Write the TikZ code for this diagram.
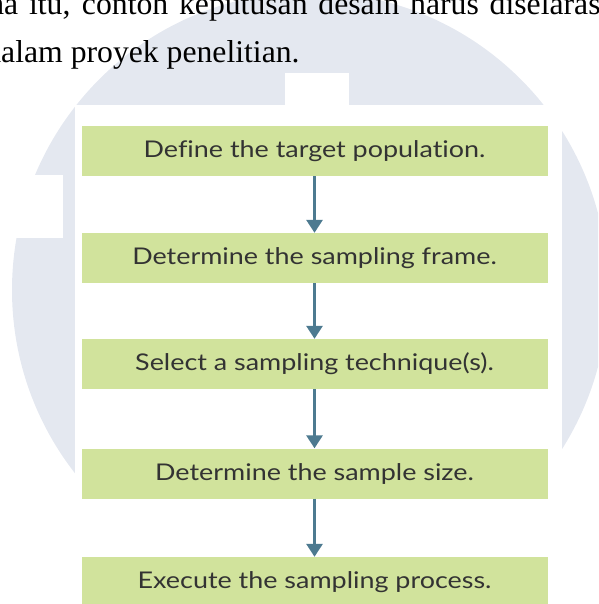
\documentclass[tikz,border=0pt]{standalone}
\usepackage{fontspec}
\setmainfont{Liberation Serif}
\newfontfamily\kastenfont[FakeStretch=1.17,Ligatures=NoCommon]{Lato}
\usetikzlibrary{arrows.meta,positioning}
\definecolor{gruen}{HTML}{D1E39C}
\definecolor{stahl}{HTML}{4D7A90}
\definecolor{schrift}{HTML}{333333}
\definecolor{wasser}{HTML}{E4E8F0}
\tikzset{
  kasten/.style={fill=gruen,minimum width=466pt,minimum height=50pt,inner sep=0pt,text=schrift,font=\kastenfont\fontsize{23}{27}\selectfont},
  pfeil/.style={-{Triangle[length=13pt,width=16pt]},stahl,line width=3pt},
  zeile/.style={anchor=base west,inner sep=0pt,font=\fontsize{31.7}{38}\selectfont},
}

\begin{document}
\begin{tikzpicture}[x=1pt,y=-1pt]
  \useasboundingbox (0,0) rectangle (598,604);
  \clip (0,0) rectangle (598,604);
  % watermark
  \fill[wasser] (310,290) circle (298);
  \fill[white] (75,105) rectangle (562,604);
  \fill[white] (285,73) rectangle (349,105);
  \fill[white] (0,175) rectangle (63,238);
  % text above
  \node[zeile] (z1) at (4,15) {\hbox spread 18pt{\llap{n}a itu, contoh keputusan desain harus diselaras\rlap{kan}}};
  \node[zeile] (z2) at (1,63) {\llap{d}alam proyek penelitian.};
  % steps
  \foreach \n/\y/\lab in {1/151/{Define the target population.}, 2/258/{Determine the sampling frame.}, 3/364/{Select a sampling technique(s).}, 4/473.5/{Determine the sample size.}, 5/582/{Execute the sampling process.}}
    \node[kasten] (s\n) at (314.5,\y) {\lab};
  \foreach \a/\b in {1/2,2/3,3/4,4/5}
    \draw[pfeil] (s\a) -- (s\b);
\end{tikzpicture}
\end{document}
